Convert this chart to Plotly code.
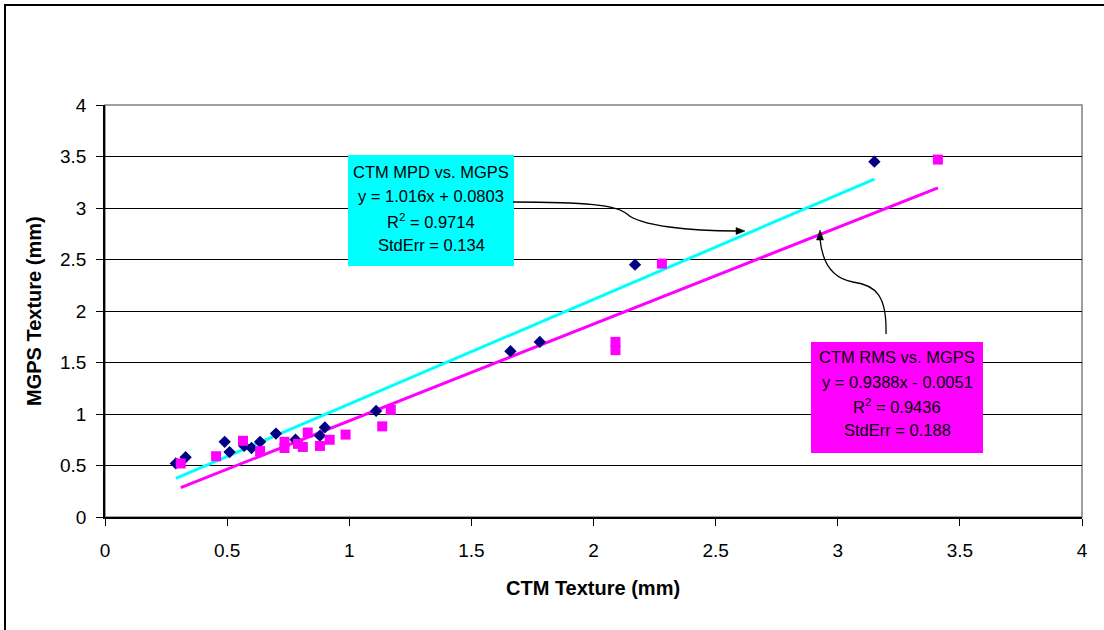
import plotly.graph_objects as go

# ---- data ----
mpd_x = [0.29, 0.33, 0.49, 0.51, 0.57, 0.60, 0.635, 0.70, 0.78, 0.88, 0.90, 1.11, 1.66, 1.78, 2.17, 3.15]
mpd_y = [0.52, 0.58, 0.73, 0.63, 0.69, 0.67, 0.73, 0.81, 0.75, 0.79, 0.87, 1.03, 1.61, 1.70, 2.45, 3.45]
rms_x = [0.31, 0.455, 0.565, 0.635, 0.735, 0.735, 0.79, 0.81, 0.83, 0.88, 0.92, 0.985, 1.135, 1.17, 2.09, 2.09, 2.28, 3.41]
rms_y = [0.52, 0.59, 0.74, 0.64, 0.73, 0.67, 0.71, 0.68, 0.82, 0.69, 0.75, 0.80, 0.88, 1.04, 1.70, 1.62, 2.46, 3.47]
mpd_fit = [1.016, 0.0803]   # slope, intercept
rms_fit = [0.9388, -0.0051]
mpd_label = ["CTM MPD vs. MGPS", "y = 1.016x + 0.0803", "R<sup>2</sup> = 0.9714", "StdErr = 0.134"]
rms_label = ["CTM RMS vs. MGPS", "y = 0.9388x - 0.0051", "R<sup>2</sup> = 0.9436", "StdErr = 0.188"]
x_ticks = [0, 0.5, 1, 1.5, 2, 2.5, 3, 3.5, 4]
y_ticks = [0, 0.5, 1, 1.5, 2, 2.5, 3, 3.5, 4]

FONT = "Liberation Sans, Arial, sans-serif"
L, T, R, B = 105, 105, 1082, 517
W, H = 1104, 630

def dx(px):
    return (px - L) / (R - L) * 4.0

def dy(py):
    return (B - py) / (B - T) * 4.0

def px_(px):
    return (px - L) / (R - L)

def py_(py):
    return (B - py) / (B - T)

fig = go.Figure()

# trend lines
for xs, fit, col in [(mpd_x, mpd_fit, "#00FFFF"), (rms_x, rms_fit, "#FF00FF")]:
    x0, x1 = min(xs), max(xs)
    fig.add_trace(go.Scatter(x=[x0, x1], y=[fit[0] * x0 + fit[1], fit[0] * x1 + fit[1]],
                             mode="lines", line=dict(color=col, width=3), hoverinfo="skip"))

fig.add_trace(go.Scatter(x=mpd_x, y=mpd_y, mode="markers",
                         marker=dict(symbol="diamond", size=9.5, color="#000080", line=dict(width=0))))
fig.add_trace(go.Scatter(x=rms_x, y=rms_y, mode="markers",
                         marker=dict(symbol="square", size=10, color="#FF00FF", line=dict(width=0))))

shapes = []
# plot area border (gray)
shapes.append(dict(type="rect", xref="paper", yref="paper", x0=0, x1=1, y0=0, y1=1,
                   line=dict(color="#808080", width=1.5), layer="below"))
# outer chart border
shapes.append(dict(type="rect", xref="paper", yref="paper", x0=px_(5), x1=px_(1110), y0=py_(640), y1=py_(5),
                   line=dict(color="black", width=2)))

# label boxes
shapes.append(dict(type="rect", xref="x", yref="y", x0=dx(348), x1=dx(514), y0=dy(266), y1=dy(155),
                   fillcolor="#00FFFF", line=dict(width=0)))
shapes.append(dict(type="rect", xref="x", yref="y", x0=dx(811), x1=dx(983), y0=dy(453), y1=dy(342),
                   fillcolor="#FF00FF", line=dict(width=0)))

def path(pts):
    s = "M %f,%f" % (dx(pts[0][0]), dy(pts[0][1]))
    for i in range(1, len(pts), 3):
        s += " C %f,%f %f,%f %f,%f" % (dx(pts[i][0]), dy(pts[i][1]),
                                       dx(pts[i + 1][0]), dy(pts[i + 1][1]),
                                       dx(pts[i + 2][0]), dy(pts[i + 2][1]))
    return s

def poly(pts):
    return "M " + " L ".join("%f,%f" % (dx(a), dy(b)) for a, b in pts) + " Z"

shapes.append(dict(type="path", xref="x", yref="y",
                   path=path([(513, 202), (585, 202), (617, 205), (627, 214),
                              (640, 226), (690, 231), (737, 231)]),
                   line=dict(color="black", width=1.3)))
shapes.append(dict(type="path", xref="x", yref="y",
                   path=path([(886, 334), (887, 296), (876, 285), (853, 282),
                              (830, 278), (822, 260), (820, 239)]),
                   line=dict(color="black", width=1.3)))
# arrowheads
shapes.append(dict(type="path", xref="x", yref="y", path=poly([(745, 231), (736, 227.5), (736, 234.5)]),
                   fillcolor="black", line=dict(color="black", width=0.5)))
shapes.append(dict(type="path", xref="x", yref="y", path=poly([(820, 230), (816.5, 240), (823.5, 240)]),
                   fillcolor="black", line=dict(color="black", width=0.5)))

annotations = []
for lines, cx, ys in [(mpd_label, 431, [172, 196, 221, 245]), (rms_label, 897, [357, 382, 406, 430])]:
    for txt, yy in zip(lines, ys):
        annotations.append(dict(x=dx(cx), y=dy(yy), xref="x", yref="y", text=txt, showarrow=False,
                                xanchor="center", yanchor="middle",
                                font=dict(family=FONT, size=16.5, color="black")))

annotations.append(dict(x=px_(593), y=py_(588), xref="paper", yref="paper", text="<b>CTM Texture (mm)</b>",
                        showarrow=False, xanchor="center", yanchor="middle",
                        font=dict(family=FONT, size=20, color="black")))
annotations.append(dict(x=px_(34), y=py_(311), xref="paper", yref="paper", text="<b>MGPS Texture (mm)</b>",
                        showarrow=False, xanchor="center", yanchor="middle", textangle=-90,
                        font=dict(family=FONT, size=20, color="black")))

fig.update_layout(
    width=W, height=H,
    margin=dict(l=L, r=W - R, t=T, b=H - B, pad=0),
    paper_bgcolor="white", plot_bgcolor="white",
    showlegend=False,
    shapes=shapes, annotations=annotations,
    font=dict(family=FONT, size=19, color="black"),
    xaxis=dict(range=[0, 4], tickvals=x_ticks, ticktext=[("%g" % v) for v in x_ticks],
               showgrid=False, zeroline=False, showline=True, linecolor="black", linewidth=1.5,
               ticks="outside", ticklen=7, tickcolor="black", tickwidth=1.3,
               ticklabelstandoff=8, tickfont=dict(family=FONT, size=19, color="black")),
    yaxis=dict(range=[0, 4], tickvals=y_ticks, ticktext=[("%g" % v) for v in y_ticks],
               showgrid=True, gridcolor="black", gridwidth=1, zeroline=False,
               showline=True, linecolor="black", linewidth=1.5,
               ticks="outside", ticklen=7, tickcolor="black", tickwidth=1.3,
               ticklabelstandoff=6, tickfont=dict(family=FONT, size=19, color="black")),
)

fig.write_html("out.html")
